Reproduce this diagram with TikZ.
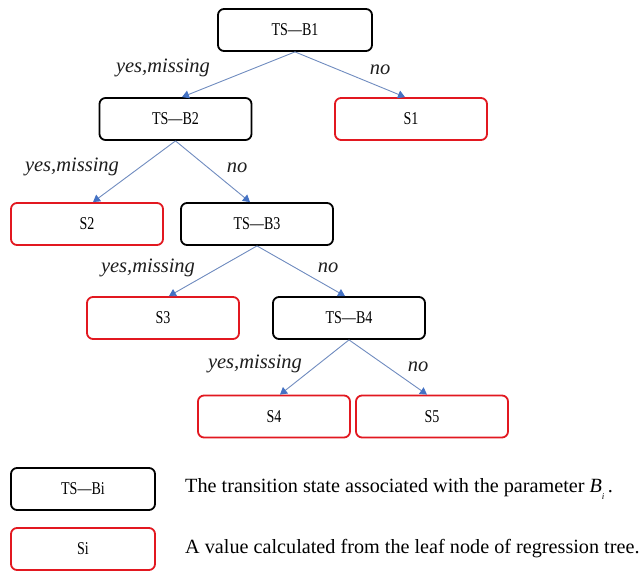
\documentclass[tikz,border=0pt]{standalone}
\usepackage{fontspec}
\usepackage{graphicx}
\setmainfont{Liberation Serif}
\usetikzlibrary{arrows.meta}

\definecolor{splitline}{RGB}{0,0,0}
\definecolor{leafline}{RGB}{226,24,32}
\definecolor{edgeblue}{RGB}{112,140,192}
\definecolor{tipblue}{RGB}{68,114,196}
\definecolor{labelgray}{RGB}{30,30,30}

% node text: Times-like, narrowed horizontally
\newcommand{\boxtext}[1]{\scalebox{0.78}[1]{\fontsize{18}{18}\selectfont #1}}

\tikzset{
  treebox/.style={rounded corners=6pt, line width=1.8pt, minimum width=152pt,
    minimum height=42pt, inner sep=0pt, fill=white},
  splitbox/.style={treebox, draw=splitline},
  leafbox/.style={treebox, draw=leafline},
  edge/.style={draw=edgeblue, line width=0.9pt,
    -{Triangle[width=8pt,length=7pt,fill=tipblue,color=tipblue]}},
  edgelabel/.style={text=labelgray, font=\fontsize{20.5}{20.5}\selectfont\itshape, inner sep=0pt},
  legendtext/.style={anchor=west, inner sep=0pt, font=\fontsize{20.2}{20.2}\selectfont}
}

\begin{document}
\begin{tikzpicture}[x=1pt, y=-1pt]
  \useasboundingbox[fill=white] (0,0) rectangle (641,572);

  % split and leaf nodes of the tree
  \node[splitbox, minimum width=154pt] (b1) at (295,30) {\boxtext{TS—B1}};
  \node[splitbox] (b2) at (175.5,119) {\boxtext{TS—B2}};
  \node[leafbox]  (s1) at (411,119) {\boxtext{S1}};
  \node[leafbox]  (s2) at (87,224) {\boxtext{S2}};
  \node[splitbox] (b3) at (257,224) {\boxtext{TS—B3}};
  \node[leafbox]  (s3) at (163,318) {\boxtext{S3}};
  \node[splitbox] (b4) at (349,318) {\boxtext{TS—B4}};
  \node[leafbox]  (s4) at (274,416.5) {\boxtext{S4}};
  \node[leafbox]  (s5) at (432,416.5) {\boxtext{S5}};

  % branches
  \draw[edge] (b1.south) -- ([xshift=6.5pt]b2.north);
  \draw[edge] (b1.south) -- ([xshift=-6pt]s1.north);
  \draw[edge] (b2.south) -- ([xshift=6pt]s2.north);
  \draw[edge] (b2.south) -- ([xshift=-7pt]b3.north);
  \draw[edge] (b3.south) -- ([xshift=6pt]s3.north);
  \draw[edge] (b3.south) -- ([xshift=-4pt]b4.north);
  \draw[edge] (b4.south) -- ([xshift=6pt]s4.north);
  \draw[edge] (b4.south) -- ([xshift=-5pt]s5.north);

  % branch labels
  \node[edgelabel] (l1a) at (163,68) {yes,missing};
  \node[edgelabel] (l1b) at (380,70) {no};
  \node[edgelabel] (l2a) at (72,167) {yes,missing};
  \node[edgelabel] (l2b) at (237,168) {no};
  \node[edgelabel] (l3a) at (148,268) {yes,missing};
  \node[edgelabel] (l3b) at (328,268) {no};
  \node[edgelabel] (l4a) at (255,364) {yes,missing};
  \node[edgelabel] (l4b) at (418,367) {no};

  % legend
  \node[splitbox, minimum width=144pt] (kb) at (83,489) {\boxtext{TS—Bi}};
  \node[leafbox, minimum width=144pt]  (ks) at (83,549) {\boxtext{Si}};
  \node[legendtext] (kbt) at (185,489)
    {The transition state associated with the parameter \textit{B}\raisebox{-0.3em}{\fontsize{9}{9}\selectfont\textit{i}}\,.};
  \node[legendtext] (kst) at (185,549)
    {A value calculated from the leaf node of regression tree.};
\end{tikzpicture}
\end{document}
